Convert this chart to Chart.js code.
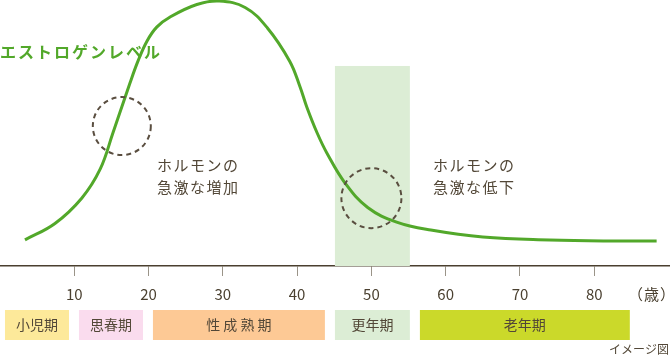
<!DOCTYPE html>
<html><head><meta charset="utf-8">
<script src="https://cdn.jsdelivr.net/npm/chart.js@4.4.1/dist/chart.umd.min.js"></script>
<style>html,body{margin:0;padding:0;background:#fff;}canvas{display:block;}</style>
</head><body>
<canvas id="c" width="670" height="356"></canvas>
<script>
const ages = [3.36, 7.4, 11.0, 13.5, 15.2, 17.5, 18.6, 19.8, 21.1, 22.9, 26.5, 29.5, 33.0, 36.0, 39.0, 40.4, 41.3, 42.7, 44.0, 46.5, 49.5, 53.4, 58.0, 65.0, 74.0, 82.5, 88.4];
const estrogen = [9.8, 16.0, 25.5, 36.5, 50.0, 68.8, 77.2, 84.6, 89.8, 93.6, 98.3, 99.6, 97.2, 89.5, 77.0, 67.3, 59.8, 50.0, 42.5, 31.0, 22.0, 16.5, 13.5, 10.9, 9.8, 9.4, 9.4];
const tickAges = [10, 20, 30, 40, 50, 60, 70, 80];
const stageNames = ['小児期', '思春期', '性 成 熟 期', '更年期', '老年期'];
const stageStart = [0.67, 10.63, 20.59, 45.09, 56.53];
const stageEnd = [9.29, 19.25, 43.74, 55.18, 84.79];
const stageColors = ['#fde99a', '#fadcee', '#fdc995', '#dcedd5', '#cbd92a'];
const menopauseRange = [45.09, 55.18];
const menopauseTop = 75.2;
const circleAges = [16.4, 50.0];
const circleLevels = [52.6, 25.5];

const FONT = '"Noto Sans CJK JP", "Noto Sans", sans-serif';
const TEXT = '#524737';
const GREEN = '#52a82a';

const overlay = {
  id: 'overlay',
  beforeDatasetsDraw(chart) {
    const {ctx, scales: {x, y}} = chart;
    ctx.save();
    ctx.fillStyle = '#dcedd5';
    const x1 = x.getPixelForValue(menopauseRange[0]);
    const x2 = x.getPixelForValue(menopauseRange[1]);
    const yt = y.getPixelForValue(menopauseTop);
    const yb = y.getPixelForValue(0);
    ctx.fillRect(x1, yt, x2 - x1, yb - yt);
    ctx.restore();
  },
  afterDatasetsDraw(chart) {
    const {ctx, scales: {x, y}, chartArea} = chart;
    ctx.save();
    const radii = [29, 30];
    circleAges.forEach((a, i) => {
      const cx = x.getPixelForValue(a), cy = y.getPixelForValue(circleLevels[i]);
      ctx.beginPath();
      ctx.arc(cx, cy, radii[i], 0, Math.PI * 2);
      ctx.setLineDash([5, 4]);
      ctx.lineWidth = 2;
      ctx.strokeStyle = '#5a4e40';
      ctx.stroke();
    });
    ctx.setLineDash([]);
    ctx.fillStyle = GREEN;
    ctx.font = 'bold 16px ' + FONT;
    ctx.textBaseline = 'middle';
    ctx.textAlign = 'left';
    ctx.letterSpacing = '2px';
    ctx.fillText('エストロゲンレベル', 0, 52);
    ctx.fillStyle = TEXT;
    ctx.font = '15px ' + FONT;
    ctx.letterSpacing = '1.5px';
    ctx.fillText('ホルモンの', 157, 165);
    ctx.fillText('急激な増加', 157, 187);
    ctx.fillText('ホルモンの', 433, 165);
    ctx.fillText('急激な低下', 433, 187);
    ctx.letterSpacing = '0px';
    const top = chartArea.bottom + 44;
    ctx.font = '14px ' + FONT;
    ctx.textAlign = 'center';
    stageNames.forEach((n, i) => {
      const x1 = x.getPixelForValue(stageStart[i]);
      const x2 = x.getPixelForValue(stageEnd[i]);
      ctx.fillStyle = stageColors[i];
      ctx.fillRect(x1, top, x2 - x1, 30);
      ctx.fillStyle = TEXT;
      ctx.fillText(n, (x1 + x2) / 2, top + 15);
    });
    ctx.font = '15px ' + FONT;
    ctx.fillStyle = '#4a4030';
    ctx.letterSpacing = '1px';
    ctx.fillText('（歳）', 652, chartArea.bottom + 28);
    ctx.letterSpacing = '0px';
    ctx.font = '12px ' + FONT;
    ctx.textAlign = 'right';
    ctx.fillStyle = TEXT;
    ctx.fillText('イメージ図', 669, 349);
    ctx.restore();
  }
};

new Chart(document.getElementById('c'), {
  type: 'line',
  data: {
    datasets: [{
      data: ages.map((a, i) => ({x: a, y: estrogen[i]})),
      borderColor: GREEN,
      borderWidth: 3,
      pointRadius: 0,
      tension: 0.4,
      fill: false,
      clip: false
    }]
  },
  options: {
    responsive: false,
    animation: false,
    layout: {padding: 0},
    plugins: {legend: {display: false}, tooltip: {enabled: false}},
    scales: {
      x: {
        type: 'linear',
        min: 0,
        max: 90.2,
        afterFit(s) { s.height = 90; },
        afterBuildTicks(s) { s.ticks = tickAges.map(v => ({value: v})); },
        grid: {drawOnChartArea: false, drawTicks: true, tickLength: 10, color: '#9a9488', lineWidth: 1},
        border: {display: true, color: '#4a3f2f', width: 1.5},
        ticks: {color: '#4a4030', font: {size: 15, family: FONT}, padding: 9, maxRotation: 0, autoSkip: false}
      },
      y: {display: false, min: 0, max: 100}
    }
  },
  plugins: [overlay]
});
</script>
</body></html>
